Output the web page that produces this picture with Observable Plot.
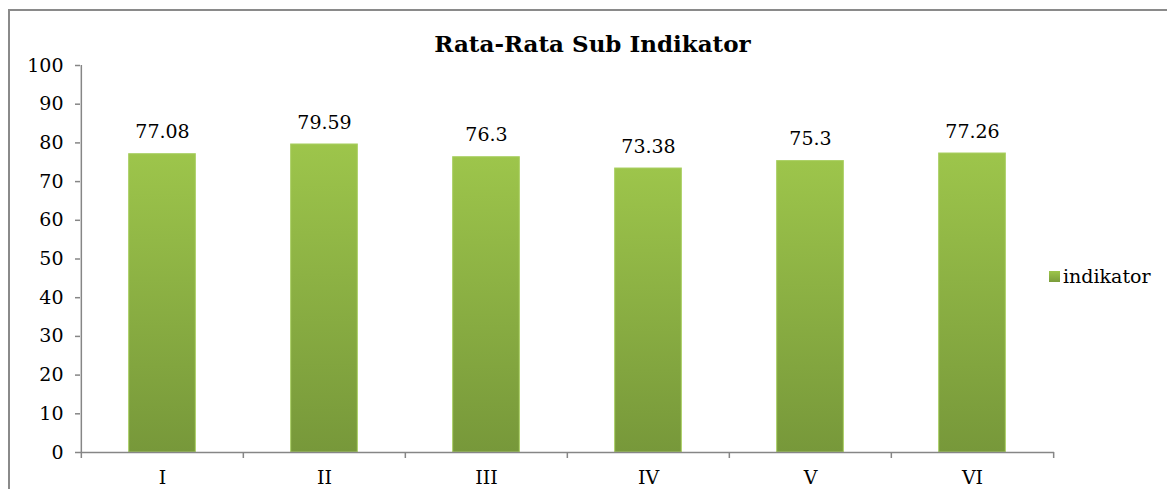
<!DOCTYPE html>
<html>
<head>
<meta charset="utf-8">
<script src="https://cdn.jsdelivr.net/npm/d3@7"></script>
<script src="https://cdn.jsdelivr.net/npm/@observablehq/plot@0.6"></script>
<style>
  html, body { margin: 0; padding: 0; background: #fff; }
  #wrap { position: relative; width: 1167px; height: 489px; overflow: hidden; }
  #frame { position: absolute; left: 8px; top: 9px; width: 1300px; height: 600px; border-left: 2px solid #8a8a8a; border-top: 2px solid #8a8a8a; box-sizing: border-box; }
  #legend { position: absolute; left: 1049px; top: 265px; font-family: "DejaVu Serif", serif; font-size: 19px; color: #000; display: flex; align-items: center; }
  #legend .sw { width: 11px; height: 11px; background: linear-gradient(#9dc54b, #7a9c3a); margin-right: 3px; }
  #chart { position: absolute; left: 0; top: 0; }
  #chart svg text { font-family: "DejaVu Serif", serif; }
</style>
</head>
<body>
<div id="wrap">
  <div id="frame"></div>
  <div id="chart"></div>
  <div id="legend"><div class="sw"></div><span>indikator</span></div>
</div>
<script>
const title = "Rata-Rata Sub Indikator";
const categories = ["I", "II", "III", "IV", "V", "VI"];
const values = [77.08, 79.59, 76.3, 73.38, 75.3, 77.26];
const valueLabels = ["77.08", "79.59", "76.3", "73.38", "75.3", "77.26"];
const yTicks = [0, 10, 20, 30, 40, 50, 60, 70, 80, 90, 100];
const seriesName = "indikator";

const data = categories.map((c, i) => ({cat: c, value: values[i], label: valueLabels[i]}));

const W = 1167, H = 489;
const mL = 80, mR = 113, mT = 65, mB = 37;
const step = (W - mL - mR) / categories.length;
const barW = 67;
const inset = (step - barW) / 2;
const font = "'DejaVu Serif', serif";
const axisColor = "#868686";

const chart = Plot.plot({
  width: W, height: H,
  marginLeft: mL, marginRight: mR, marginTop: mT, marginBottom: mB,
  style: {fontFamily: font, fontSize: "19px", color: "#000", background: "transparent", overflow: "visible"},
  x: {type: "band", domain: categories, padding: 0, axis: null},
  y: {domain: [0, 100], axis: null},
  marks: [
    Plot.barY(data, {x: "cat", y: "value", fill: "url(#barGrad)", insetLeft: inset, insetRight: inset, stroke: "#a9cf62", strokeWidth: 1}),
    Plot.ruleY([0], {stroke: axisColor, strokeWidth: 1.5}),
    Plot.ruleX([categories[0]], {y1: 0, y2: 100, dx: -step / 2, stroke: axisColor, strokeWidth: 1.5}),
    Plot.ruleX(categories, {y1: 0, y2: 0, dx: -step / 2, insetBottom: -6, stroke: axisColor, strokeWidth: 1.5}),
    Plot.ruleX([categories[categories.length - 1]], {y1: 0, y2: 0, dx: step / 2, insetBottom: -6, stroke: axisColor, strokeWidth: 1.5}),
    Plot.axisY(yTicks, {tickSize: 5, tickPadding: 12, stroke: axisColor, strokeWidth: 1.5, fontSize: 19, tickFormat: d => String(d), label: null}),
    Plot.axisX(categories, {tickSize: 0, tickPadding: 18, fontSize: 19, label: null}),
    Plot.text(data, {x: "cat", y: "value", text: "label", dy: -22, fontSize: 19, fill: "#000"}),
    Plot.text([title], {frameAnchor: "top", dx: 25, dy: -14, lineAnchor: "bottom", fontSize: 23, fontWeight: "bold", fill: "#000"})
  ]
});

const ns = "http://www.w3.org/2000/svg";
const defs = document.createElementNS(ns, "defs");
defs.innerHTML = `<linearGradient id="barGrad" x1="0" y1="0" x2="0" y2="1">
  <stop offset="0%" stop-color="#9dc54b"/>
  <stop offset="100%" stop-color="#77983a"/>
</linearGradient>`;
chart.insertBefore(defs, chart.firstChild);
document.getElementById("chart").appendChild(chart);
</script>
</body>
</html>
